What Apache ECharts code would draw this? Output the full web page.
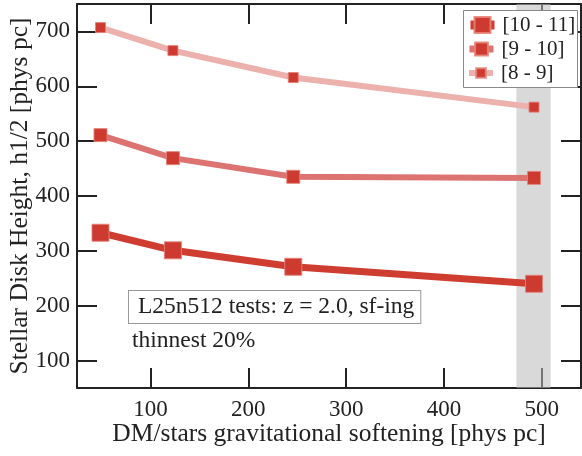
<!DOCTYPE html>
<html><head><meta charset="utf-8">
<script src="https://cdn.jsdelivr.net/npm/echarts@6/dist/echarts.min.js"></script>
<style>html,body{margin:0;padding:0;background:#fff}#c{width:582px;height:456px}</style>
</head><body><div id="c"></div>
<script>
const seriesNames = ['[10 - 11]', '[9 - 10]', '[8 - 9]'];
const softening = [49, 123, 246, 492];
const h10_11 = [333, 301, 271, 240];
const h9_10 = [511, 469, 435, 433];
const h8_9 = [707, 665, 616, 562];
const xTicks = [100, 200, 300, 400, 500];
const yTicks = [100, 200, 300, 400, 500, 600, 700];
const band = [474, 509];

const F = 'Liberation Serif';
const lineColors = ['#cf3d31', '#dc7370', '#ecb0ad'];
const symSizes = [17, 13, 10];
const lineWidths = [7, 6, 6];
const values = [h10_11, h9_10, h8_9];
const legIconH = [20, 16, 12];
const legLineW = [9, 7, 6];
const legTop = [14, 38, 62];

const tick = {show: true, inside: true, length: 20, lineStyle: {color: '#222', width: 2}};
const axLine = {show: true, onZero: false, lineStyle: {color: '#222', width: 2}};

const series = seriesNames.map((n, i) => ({
  name: n, type: 'line', z: 3 + (2 - i),
  data: softening.map((x, j) => [x, values[i][j]]),
  symbol: 'rect', symbolSize: symSizes[i],
  lineStyle: {color: lineColors[i], width: lineWidths[i]},
  itemStyle: {color: '#cc3a30', borderColor: 'rgba(230,130,120,0.9)', borderWidth: 1},
  emphasis: {disabled: true},
  animation: false
}));
series[0].markArea = {
  silent: true,
  itemStyle: {color: 'rgba(185,185,185,0.55)'},
  data: [[{xAxis: band[0]}, {xAxis: band[1]}]]
};

const legends = seriesNames.map((n, i) => ({
  orient: 'vertical', left: 466, top: legTop[i], padding: 0,
  itemWidth: 24, itemHeight: legIconH[i], selectedMode: false,
  textStyle: {fontFamily: F, fontSize: 21, color: '#222', lineHeight: 22, padding: [0, 0, 0, 3]},
  data: [{name: n, lineStyle: {width: legLineW[i], color: lineColors[i]}}], z: 11
}));

const chart = echarts.init(document.getElementById('c'));
chart.setOption({
  animation: false,
  grid: {left: 77, right: 1, top: 4, bottom: 68, containLabel: false, outerBoundsMode: 'none'},
  xAxis: [{
    type: 'value', min: 25, max: 540, position: 'bottom',
    name: 'DM/stars gravitational softening [phys pc]', nameLocation: 'middle', nameGap: 33,
    nameMoveOverlap: false,
    nameTextStyle: {fontFamily: F, fontSize: 25.5, color: '#222'},
    axisLine: axLine,
    axisTick: Object.assign({customValues: xTicks}, tick),
    axisLabel: {customValues: xTicks, fontFamily: F, fontSize: 23, color: '#222', margin: 10},
    splitLine: {show: false}
  }, {
    type: 'value', min: 25, max: 540, position: 'top',
    axisLine: axLine,
    axisTick: Object.assign({customValues: xTicks}, tick),
    axisLabel: {show: false}, splitLine: {show: false}
  }],
  yAxis: [{
    type: 'value', min: 50, max: 750, position: 'left',
    name: 'Stellar Disk Height, h1/2 [phys pc]', nameLocation: 'middle', nameGap: 44,
    nameMoveOverlap: false,
    nameTextStyle: {fontFamily: F, fontSize: 25.5, color: '#222'},
    axisLine: axLine,
    axisTick: Object.assign({customValues: yTicks}, tick),
    axisLabel: {customValues: yTicks, fontFamily: F, fontSize: 23, color: '#222', margin: 7},
    splitLine: {show: false}
  }, {
    type: 'value', min: 50, max: 750, position: 'right',
    axisLine: axLine,
    axisTick: Object.assign({customValues: yTicks}, tick),
    axisLabel: {show: false}, splitLine: {show: false}
  }],
  legend: legends,
  graphic: [{
    type: 'rect', left: 463, top: 10, z: 10,
    shape: {width: 114, height: 77},
    style: {fill: '#fff', stroke: '#888', lineWidth: 1}
  }, {
    type: 'text', left: 128, top: 290, z: 10,
    style: {text: 'L25n512 tests: z = 2.0, sf-ing', fontFamily: F, fontSize: 23.5, fill: '#222',
      backgroundColor: '#fff', borderColor: '#999', borderWidth: 1, padding: [4, 6, 4, 9]}
  }, {
    type: 'text', left: 132, top: 329, z: 10,
    style: {text: 'thinnest 20%', fontFamily: F, fontSize: 23.5, fill: '#222'}
  }],
  series: series
});
</script></body></html>
